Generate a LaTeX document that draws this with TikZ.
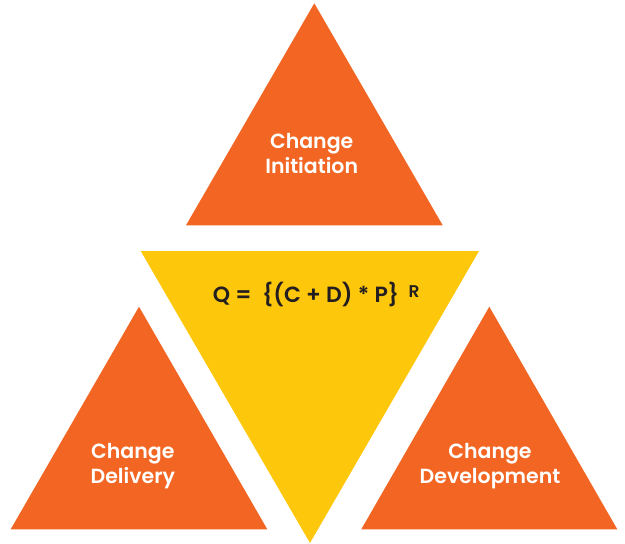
\documentclass[tikz,border=0pt]{standalone}
\usepackage{fontspec}
\setmainfont{Poppins}[BoldFont={* SemiBold}]
\definecolor{orng}{HTML}{F26522}
\definecolor{yell}{HTML}{FDC70C}
\definecolor{ink}{HTML}{231F20}
\begin{document}
\begin{tikzpicture}[x=1pt,y=-1pt,
  tri/.style={fill=orng},
  lbl/.style={text=white,font=\fontsize{20.5}{25}\selectfont\bfseries,align=center,inner sep=0pt},
  formula/.style={text=ink,font=\fontsize{22}{26}\selectfont\bfseries,inner sep=0pt,anchor=base west}]
\useasboundingbox (0,0) rectangle (625,544);
\fill[tri] (314.3,3.3) -- (442.7,225.3) -- (186,225.3) -- cycle;
\fill[yell] (140.7,251) -- (479,251) -- (310,543) -- cycle;
\fill[tri] (139,306.7) -- (267.3,529.3) -- (10.7,529.3) -- cycle;
\fill[tri] (489.3,306.7) -- (617.3,529.3) -- (361.3,529.3) -- cycle;
\node[lbl,anchor=base] (init) at (311.7,173) {Change\\Initiation};
\node[lbl,anchor=base] (deliv) at (132.8,483) {Change\\Delivery};
\node[lbl,anchor=base] (devel) at (490,483) {Change\\Development};
\node[formula] (q) at (212.7,302) {Q =\ \ \{(C + D) * P\}};
\node[formula,font=\fontsize{17}{17}\selectfont\bfseries] (r) at (408.5,297) {R};
\end{tikzpicture}
\end{document}
